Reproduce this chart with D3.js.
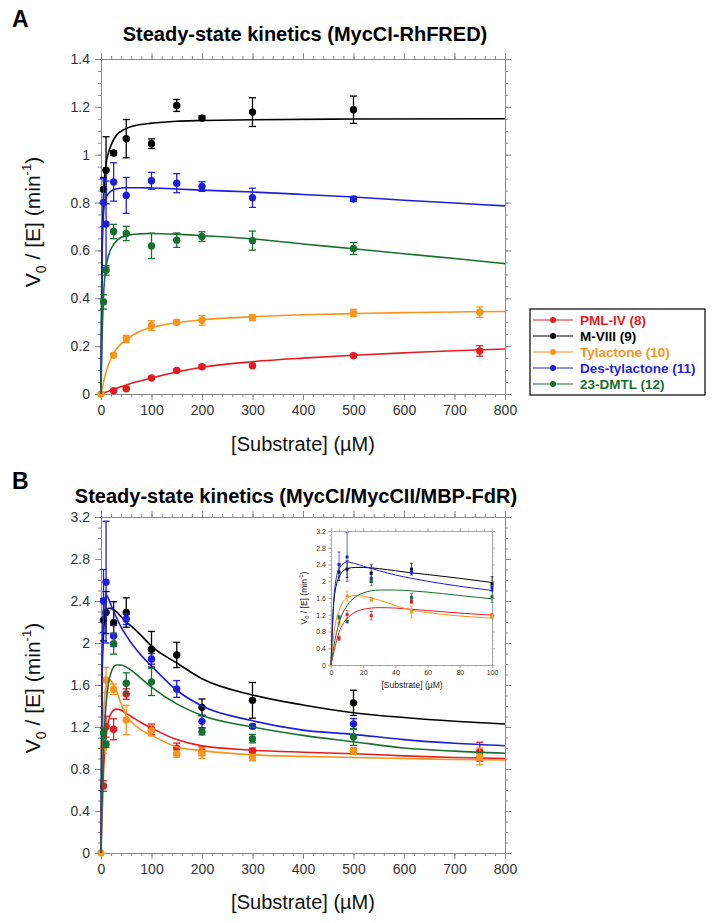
<!DOCTYPE html>
<html><head><meta charset="utf-8">
<script src="https://cdn.jsdelivr.net/npm/d3@7"></script>
<style>
body{margin:0;background:#fff;}
svg{display:block;font-family:"Liberation Sans",Arial,Helvetica,sans-serif;}
</style>
</head><body>
<svg id="chart" width="714" height="923"></svg>
<script>
// ---------------- DATA ----------------
const seriesNames  = ["PML-IV (8)","M-VIII (9)","Tylactone (10)","Des-tylactone (11)","23-DMTL (12)"];
const seriesColors = ["#e41b23","#000000","#f7941d","#1f1fd8","#17702f"];

const xTicks = [0,100,200,300,400,500,600,700,800];
const yTicksA = [0,0.2,0.4,0.6,0.8,1,1.2,1.4];
const yTicksB = [0,0.4,0.8,1.2,1.6,2,2.4,2.8,3.2];
const xTicksInset = [0,20,40,60,80,100];

// Panel A measured points [S (uM), v0/[E], error]
const aPml  = [[25,0.014,0.004],[50,0.022,0.004],[100,0.067,0.006],[150,0.098,0.006],[200,0.114,0.008],[300,0.118,0.006],[500,0.16,0.006],[750,0.18,0.022]];
const aMviii= [[5,0.855,0.05],[10,0.935,0.14],[25,1.007,0.01],[50,1.067,0.08],[100,1.046,0.02],[150,1.206,0.025],[200,1.153,0.01],[300,1.178,0.06],[500,1.188,0.057]];
const aTyl  = [[0,0,0],[25,0.162,0.008],[50,0.23,0.015],[100,0.286,0.02],[150,0.30,0.01],[200,0.308,0.02],[300,0.319,0.012],[500,0.339,0.015],[750,0.342,0.022]];
const aDes  = [[5,0.80,0.1],[10,0.71,0.18],[25,0.886,0.08],[50,0.83,0.075],[100,0.891,0.035],[150,0.881,0.04],[200,0.867,0.02],[300,0.82,0.04],[500,0.815,0.01]];
const aDmtl = [[5,0.385,0.03],[10,0.517,0.02],[25,0.679,0.03],[50,0.671,0.03],[100,0.619,0.053],[150,0.643,0.03],[200,0.658,0.02],[300,0.641,0.04],[500,0.608,0.025]];

// Panel A fitted curves
const fAPml  = [[0,0],[25,0.02],[50,0.038],[100,0.067],[150,0.092],[200,0.112],[300,0.135],[400,0.15],[500,0.162],[600,0.172],[700,0.181],[800,0.188]];
const fAMviii= [[0,0],[2,0.58],[5,0.82],[10,0.96],[15,1.01],[20,1.04],[30,1.08],[50,1.11],[75,1.125],[100,1.132],[150,1.14],[200,1.143],[300,1.146],[500,1.149],[800,1.15]];
const fATyl  = [[0,0],[10,0.092],[25,0.17],[50,0.226],[75,0.26],[100,0.278],[150,0.298],[200,0.31],[300,0.323],[400,0.331],[500,0.336],[600,0.34],[700,0.343],[800,0.345]];
const fADes  = [[0,0],[2,0.55],[5,0.76],[10,0.82],[20,0.848],[30,0.857],[50,0.862],[75,0.862],[100,0.861],[150,0.857],[200,0.852],[300,0.844],[400,0.834],[500,0.823],[600,0.81],[700,0.798],[800,0.786]];
const fADmtl = [[0,0],[2,0.22],[5,0.41],[10,0.53],[15,0.58],[25,0.625],[40,0.655],[50,0.662],[75,0.669],[100,0.671],[150,0.668],[200,0.662],[300,0.648],[400,0.627],[500,0.607],[600,0.586],[700,0.566],[800,0.545]];

// Panel B measured points
const bPml  = [[5,0.638,0.05],[10,1.203,0.1],[25,1.178,0.1],[50,1.514,0.05],[100,1.178,0.05],[150,0.997,0.05],[200,0.969,0.04],[300,0.969,0.03],[500,0.975,0.02],[750,0.965,0.09]];
const bMviii= [[5,2.22,0.2],[10,2.29,0.2],[25,2.193,0.2],[50,2.29,0.14],[100,1.94,0.17],[150,1.886,0.12],[200,1.387,0.08],[300,1.454,0.17],[500,1.43,0.12]];
const bTyl  = [[0,0,0],[5,1.0,0.05],[10,1.648,0.12],[25,1.559,0.05],[50,1.267,0.14],[100,1.165,0.05],[150,0.943,0.03],[200,0.95,0.05],[300,0.91,0.03],[500,0.969,0.03],[750,0.92,0.08]];
const bDes  = [[5,2.40,0.3],[10,2.58,0.58],[25,2.067,0.1],[50,2.226,0.05],[100,1.848,0.05],[150,1.562,0.08],[200,1.254,0.06],[300,1.206,0.02],[500,1.23,0.05]];
const bDmtl = [[5,1.14,0.05],[10,1.035,0.03],[25,1.994,0.1],[50,1.616,0.1],[100,1.63,0.13],[200,1.155,0.03],[300,1.089,0.04],[500,1.105,0.08]];

// Panel B fitted curves
const fBPml  = [[0,0],[2,0.35],[5,0.78],[10,1.11],[15,1.26],[20,1.33],[30,1.37],[40,1.36],[50,1.33],[60,1.30],[80,1.24],[100,1.19],[150,1.08],[200,1.02],[300,0.98],[400,0.96],[500,0.945],[600,0.925],[700,0.91],[800,0.90]];
const fBMviii= [[0,0],[2,1.6],[5,2.1],[10,2.3],[15,2.33],[20,2.33],[30,2.3],[40,2.25],[50,2.2],[60,2.16],[80,2.07],[100,1.97],[150,1.81],[200,1.66],[300,1.505],[400,1.41],[500,1.336],[600,1.29],[700,1.255],[800,1.229]];
const fBTyl  = [[0,0],[2,0.8],[5,1.3],[10,1.6],[15,1.66],[20,1.64],[30,1.55],[40,1.42],[50,1.31],[60,1.25],[80,1.17],[100,1.12],[150,1.01],[200,0.975],[300,0.935],[400,0.92],[500,0.91],[600,0.9],[700,0.89],[800,0.885]];
const fBDes  = [[0,0],[2,1.7],[5,2.3],[10,2.46],[15,2.42],[20,2.36],[30,2.25],[40,2.15],[50,2.07],[60,2.0],[80,1.88],[100,1.78],[150,1.55],[200,1.40],[300,1.26],[400,1.17],[500,1.13],[600,1.08],[700,1.045],[800,1.022]];
const fBDmtl = [[0,0],[2,0.5],[5,1.0],[10,1.42],[15,1.62],[20,1.72],[30,1.79],[40,1.79],[50,1.77],[60,1.74],[80,1.66],[100,1.58],[150,1.42],[200,1.31],[300,1.20],[400,1.12],[500,1.06],[600,1.0],[700,0.97],[800,0.95]];

const panelAPoints = [aPml,aMviii,aTyl,aDes,aDmtl];
const panelAFits   = [fAPml,fAMviii,fATyl,fADes,fADmtl];
const panelBPoints = [bPml,bMviii,bTyl,bDes,bDmtl];
const panelBFits   = [fBPml,fBMviii,fBTyl,fBDes,fBDmtl];

// ---------------- DRAWING ----------------
const svg = d3.select("#chart");
const AXC = "#8a8a8a", TXC = "#333";

function frame(g, x, y, o){
  const [x0,x1] = x.range(), [yb,yt] = y.range();
  const fmt = d => String(d);
  function put(axisGen, tx, ty, vals, len, labels){
    const a = g.append("g").attr("transform",`translate(${tx},${ty})`)
      .call(axisGen.tickValues(vals).tickSize(len).tickSizeOuter(0).tickPadding(o.pad)
        .tickFormat(labels ? fmt : () => ""));
    a.select(".domain").attr("stroke",o.color).attr("stroke-width",o.sw);
    a.selectAll(".tick line").attr("stroke",o.color).attr("stroke-width",o.sw);
    a.selectAll(".tick text").attr("fill",TXC).style("font-size",o.fs+"px")
      .style("font-family",'"Liberation Sans",Arial,sans-serif');
    return a;
  }
  // minor ticks
  put(d3.axisBottom(x), 0, yb, o.xMinor, o.minLen, false);
  put(d3.axisTop(x), 0, yt, o.xMinor, o.minLen, false);
  put(d3.axisLeft(y), x0, 0, o.yMinor, o.minLen, false);
  put(d3.axisRight(y), x1, 0, o.yMinor, o.minLen, false);
  // major ticks
  put(d3.axisBottom(x), 0, yb, o.xTicks, o.majLen, true);
  put(d3.axisTop(x), 0, yt, o.xTicks, o.majLen, false);
  put(d3.axisLeft(y), x0, 0, o.yTicks, o.majLen, true);
  put(d3.axisRight(y), x1, 0, o.yTicks, o.majLen, false);
}

function series(g, x, y, pts, fit, color, o){
  const line = d3.line().x(d=>x(d[0])).y(d=>y(d[1])).curve(d3.curveMonotoneX);
  g.append("path").datum(fit).attr("d",line).attr("fill","none")
    .attr("stroke",color).attr("stroke-width",o.lw);
  const eb = g.append("g").attr("stroke",color).attr("stroke-width",o.ew);
  pts.filter(d=>d[2]>0).forEach(d=>{
    const cx = x(d[0]), t = y(d[1]+d[2]), b = y(d[1]-d[2]);
    eb.append("line").attr("x1",cx).attr("x2",cx).attr("y1",t).attr("y2",b);
    eb.append("line").attr("x1",cx-o.cap).attr("x2",cx+o.cap).attr("y1",t).attr("y2",t);
    eb.append("line").attr("x1",cx-o.cap).attr("x2",cx+o.cap).attr("y1",b).attr("y2",b);
  });
  if(o.square){
    g.selectAll(null).data(pts).enter().append("rect")
      .attr("x",d=>x(d[0])-o.r).attr("y",d=>y(d[1])-o.r)
      .attr("width",2*o.r).attr("height",2*o.r).attr("fill",color);
  } else {
    g.selectAll(null).data(pts).enter().append("circle")
      .attr("cx",d=>x(d[0])).attr("cy",d=>y(d[1])).attr("r",o.r).attr("fill",color);
  }
}

function yTitle(cx, cy, size){
  const t = svg.append("text").attr("transform",`translate(${cx},${cy}) rotate(-90)`)
    .attr("text-anchor","middle").attr("fill","#111").style("font-size",size+"px");
  t.append("tspan").text("V");
  t.append("tspan").text("0").style("font-size",(size*0.68)+"px").attr("dy",size*0.28);
  t.append("tspan").text(" / [E] (min").attr("dy",-size*0.28);
  t.append("tspan").text("-1").style("font-size",(size*0.62)+"px").attr("dy",-size*0.42);
  t.append("tspan").text(")").attr("dy",size*0.42);
}
function xTitle(cx, by, size){
  svg.append("text").attr("x",cx).attr("y",by).attr("text-anchor","middle")
    .attr("fill","#111").style("font-size",size+"px").text("[Substrate] (\u00B5M)");
}

const xA = d3.scaleLinear().domain([0,800]).range([101,505]);
const yA = d3.scaleLinear().domain([0,1.4]).range([394,59]);
const xB = d3.scaleLinear().domain([0,800]).range([101,505]);
const yB = d3.scaleLinear().domain([0,3.2]).range([853,517]);

const mainOpts = {pad:5, color:AXC, sw:1, fs:14, majLen:6, minLen:3,
  xTicks:xTicks, xMinor:d3.range(0,801,20)};

// Panel A
const gA = svg.append("g");
frame(gA, xA, yA, Object.assign({}, mainOpts, {yTicks:yTicksA, yMinor:d3.range(0,29).map(i=>i*0.05)}));
panelAPoints.forEach((p,i)=>series(gA, xA, yA, p, panelAFits[i], seriesColors[i], {lw:1.6, ew:1.3, cap:3.5, r:3.7}));

// Panel B
const gB = svg.append("g");
frame(gB, xB, yB, Object.assign({}, mainOpts, {yTicks:yTicksB, yMinor:d3.range(0,33).map(i=>i*0.1)}));
panelBPoints.forEach((p,i)=>series(gB, xB, yB, p, panelBFits[i], seriesColors[i], {lw:1.6, ew:1.3, cap:3.5, r:3.7}));

// Inset
const xI = d3.scaleLinear().domain([0,100]).range([331,492]);
const yI = d3.scaleLinear().domain([0,3.2]).range([665,531]);
const gI = svg.append("g");
gI.append("rect").attr("x",331).attr("y",531).attr("width",161).attr("height",134).attr("fill","#fff");
frame(gI, xI, yI, {pad:2, color:"#a0a0a0", sw:0.7, fs:7, majLen:3, minLen:1.5,
  xTicks:xTicksInset, xMinor:d3.range(0,101,5), yTicks:yTicksB, yMinor:d3.range(0,33).map(i=>i*0.1)});
panelBPoints.forEach((p,i)=>series(gI, xI, yI, p.filter(d=>d[0]<=100), panelBFits[i].filter(d=>d[0]<=100),
  seriesColors[i], {lw:1, ew:0.7, cap:1.5, r:1.5, square:true}));

// Titles
svg.append("text").attr("x",12).attr("y",27).style("font-size","23px").style("font-weight","bold").text("A");
svg.append("text").attr("x",12).attr("y",489).style("font-size","23px").style("font-weight","bold").text("B");
svg.append("text").attr("x",305).attr("y",41).attr("text-anchor","middle")
  .style("font-size","20px").style("font-weight","bold").text("Steady-state kinetics (MycCI-RhFRED)");
svg.append("text").attr("x",296).attr("y",503).attr("text-anchor","middle")
  .style("font-size","20px").style("font-weight","bold").text("Steady-state kinetics (MycCI/MycCII/MBP-FdR)");

yTitle(40, 222, 21);
yTitle(40, 688, 21);
xTitle(303, 451, 20);
xTitle(303, 909, 20);
yTitle(307, 598, 8.5);
svg.append("text").attr("x",412).attr("y",688).attr("text-anchor","middle").attr("fill","#222")
  .style("font-size","8.5px").text("[Substrate] (\u00B5M)");

// Legend
const lg = svg.append("g");
lg.append("rect").attr("x",530).attr("y",309).attr("width",175).attr("height",86)
  .attr("fill","#fff").attr("stroke","#000").attr("stroke-width",1.2);
seriesNames.forEach((n,i)=>{
  const yy = 320 + i*16;
  lg.append("line").attr("x1",533).attr("x2",573).attr("y1",yy).attr("y2",yy)
    .attr("stroke",seriesColors[i]).attr("stroke-width",1.2);
  lg.append("circle").attr("cx",553).attr("cy",yy).attr("r",3).attr("fill",seriesColors[i]);
  lg.append("text").attr("x",580).attr("y",yy+5).attr("fill",seriesColors[i])
    .style("font-size","13.5px").style("font-weight","bold").text(n);
});
</script>
</body></html>
